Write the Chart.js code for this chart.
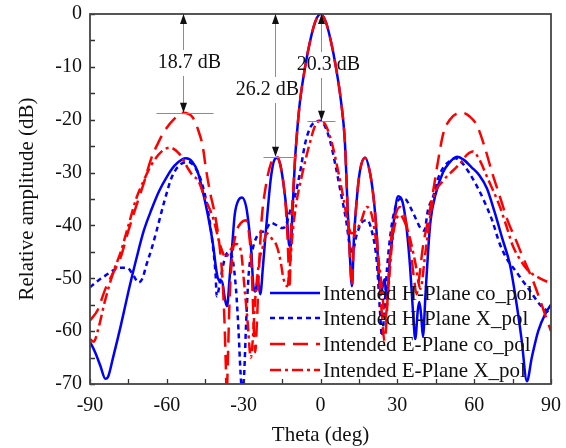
<!DOCTYPE html>
<html>
<head>
<meta charset="utf-8">
<script src="https://cdn.jsdelivr.net/npm/chart.js"></script>
<style>
  html, body { margin: 0; padding: 0; background: #fff; }
  #wrap { width: 566px; height: 448px; }
</style>
</head>
<body>
<div id="wrap"><canvas id="visualization" width="566" height="448"></canvas></div>
<script>
// angles (deg) and levels (dB)
const hcoTheta = [-90,-88,-86,-84,-83,-81,-78,-75,-72,-69,-66,-63,-60,-57,-54,-52.5,-50,-48,-46,-44,-42,-40.5,-39.5,-38.5,-37.3,-36.5,-35.5,-34.5,-33.5,-32,-30.6,-29,-28,-27,-26.3,-25.5,-24.5,-23.5,-22.5,-21.5,-20.5,-19.5,-18.3,-17,-15.7,-14.5,-13.3,-12.3,-11.6,-11,-10,-9,-8,-6,-4,-2,0,2,4,6,8,9.5,10.7,11.5,12.3,13,14,15.3,17.4,19.5,21,22,22.8,23.6,25,26,27,28,29,30.3,32,33.5,35,36.2,37,38,38.6,39.3,40,41,42,43,45,47.8,50,53.3,56,59,62,65,68,71,74,76.7,78.5,80.6,82.5,85,88,90];
const hcoDb = [-62,-64,-66.5,-69,-68.7,-65,-59,-52.5,-46.5,-41,-37,-33.5,-30.8,-28.7,-27.5,-27.3,-28,-29.8,-33.5,-38,-43.5,-49,-50.5,-50.5,-54,-55.3,-50,-44,-38,-35.2,-34.7,-36.5,-40,-45,-51,-52.5,-50.5,-53,-48,-42,-36.5,-31.5,-28,-27.2,-28.5,-32,-37,-43.5,-44,-38,-28,-21.5,-16.5,-10,-5,-1.4,0,-1.4,-5,-10,-16.5,-24,-38,-46,-51.5,-43,-36,-30,-27.2,-30.5,-36,-42,-50,-52.7,-50.2,-54,-47,-42.5,-37.6,-34.5,-35.5,-40,-48,-57,-61.5,-56,-54.5,-57,-61,-53,-45,-39,-34,-30,-28.3,-27,-27.6,-29,-30.5,-33,-37.5,-42.5,-47.5,-55.3,-61.5,-69.5,-65,-60,-56.5,-55];

const hxTheta = [-90,-87,-84,-81,-78,-75.5,-73,-71,-69.5,-68,-66,-64,-61,-58,-55,-51.7,-49,-46,-44,-42,-41,-40.5,-39,-37.5,-36,-34.5,-33,-32,-31.2,-30.5,-29.8,-29,-28,-26.5,-24,-21.5,-19.5,-17,-15,-13.5,-12,-10,-8,-6,-4,-2,0,2,4,6,8,10,11.5,12.5,14,16,18.2,20,22,23.2,24,24.8,26,27.5,29,31,33,35,37,39,40.5,42,44,46,48,50.5,52.6,55,58,61,64,67,70,73,76,79,82,85.7,88,90];
const hxDb = [-51.7,-50.5,-49.5,-48.5,-48,-48,-49.5,-50.8,-50,-47.5,-44.5,-41,-35.5,-30.8,-28.6,-28,-29,-32.5,-37,-44,-49,-53.4,-50,-46.5,-45,-46,-52,-60,-68,-72,-68,-58,-49,-44.5,-41.5,-41,-39.5,-40,-40.5,-40,-37.5,-34.5,-30,-24.5,-21.5,-20.4,-20.2,-21.5,-24.5,-29,-34,-39,-44,-45,-42,-39.5,-39,-41,-47,-56,-61,-57,-48,-41,-37,-35,-35,-36.5,-38.5,-40.5,-41,-37,-34.5,-31,-29,-27.8,-27.3,-28,-30,-32.5,-35.5,-39,-43.5,-46.5,-48.5,-50.5,-52.5,-55,-56,-57];

const ecoTheta = [-90,-87,-84,-81,-78.3,-75,-72.4,-69,-66.2,-63,-60.7,-57,-53.7,-50,-47.8,-46,-44.7,-43,-41.2,-39.5,-38.3,-37.5,-37,-36.6,-36.2,-35.5,-34.5,-33,-31,-29,-27.8,-27,-26.5,-26,-25.5,-24.8,-24,-23,-21.5,-19.5,-17,-15.5,-14,-13,-12.5,-12.1,-11.5,-10.5,-10,-9,-8,-6,-4,-2,0,2,4,6,8,9.5,10.7,11.5,12.3,13,14,15.3,17.4,19.5,21,22,23,24,25,25.5,26.5,27.5,29,31,33,35,36.5,37.5,38.5,40,42,44,46,48,50.5,53,55.6,58,61,64,67,70,73,76.5,79,83,86,88.5,90];
const ecoDb = [-58,-56,-52,-49,-46.4,-41,-37,-32,-27.5,-24,-22,-19.8,-18.7,-19.5,-21.9,-25,-29.4,-34,-38,-43.5,-50,-58,-66,-72,-66,-54,-46,-41.5,-39.5,-39,-42,-47,-53,-60,-64,-58,-48,-39,-33,-28.5,-27,-29,-34,-41,-47,-52,-41,-32,-28,-21.5,-16.5,-10,-5,-1.4,0,-1.4,-5,-10,-16.5,-24,-38,-46,-51.5,-43,-36,-30,-27.2,-30.5,-36,-42,-50,-57,-62,-60,-51,-43,-38.5,-36.5,-38.5,-44,-50,-53,-50,-44,-39,-33.5,-27.5,-22.5,-20,-18.9,-18.7,-19.3,-21,-25,-30,-34.5,-39,-43,-46,-50.5,-54.5,-58,-60];

const exTheta = [-90,-88.5,-87,-84,-81,-78,-75,-72,-69,-66,-62,-58.8,-55,-52,-50,-47.8,-45,-42,-39,-37,-35,-33,-31,-30,-28.5,-27.2,-26.5,-25.5,-24,-22.5,-21,-19,-17,-15.5,-14.5,-13,-12,-11,-9.5,-7,-4.5,-2,0,2,4.5,7,9,10.5,12,14,16,18,20,22,24,25.2,26.5,28,29.5,31,33,35,37,39,41,44,48,52,55,57.2,59.5,62,65,67.5,70,72.5,75.2,78,80.6,83,85.7,90];
const exDb = [-61.5,-62,-60,-54,-49,-45,-40,-35,-31.5,-28.5,-26,-25.3,-26.5,-29,-30.5,-31.5,-35,-38.5,-44,-46,-44.5,-43.5,-45,-50,-58,-65,-62,-54,-47,-44,-41.5,-42.5,-44,-47,-50,-51.5,-48,-42,-36,-30,-25,-21,-20.2,-21,-24.5,-30,-35,-39,-41.5,-41,-39,-36.5,-38,-44,-52,-58,-52,-43,-39,-38,-39.5,-42.6,-47,-52,-45,-35,-31.5,-29.5,-28,-26.6,-26,-27.5,-30.8,-33.5,-36.4,-40,-44,-46.5,-48.3,-49.3,-50,-51];

const seriesNames = ['Intended H-Plane co_pol', 'Intended H-Plane X_pol', 'Intended E-Plane co_pol', 'Intended E-Plane X_pol'];

// level differences marked with arrows
const annLabels = ['18.7 dB', '26.2 dB', '20.3 dB'];
const annTheta = [-53.7, -17.8, 0.2];
const annLevel = [-18.7, -27, -20.2];

const FONT = "'Liberation Serif', 'Times New Roman', serif";

function pts(xs, ys) {
    return xs.map((x, i) => ({x: x, y: ys[i]}));
}

const data = {
    datasets: [
        {
            label: seriesNames[0],
            data: pts(hcoTheta, hcoDb),
            borderColor: 'rgb(0, 0, 255)',
            borderWidth: 2.5,
            order: 4,
        },
        {
            label: seriesNames[1],
            data: pts(hxTheta, hxDb),
            borderColor: 'rgb(0, 0, 255)',
            borderWidth: 2.5,
            borderDash: [5, 4],
            order: 3,
        },
        {
            label: seriesNames[2],
            data: pts(ecoTheta, ecoDb),
            borderColor: 'rgb(255, 0, 0)',
            borderWidth: 2.5,
            borderDash: [15, 8],
            order: 2,
        },
        {
            label: seriesNames[3],
            data: pts(exTheta, exDb),
            borderColor: 'rgb(255, 0, 0)',
            borderWidth: 2.5,
            borderDash: [11, 4, 3, 4],
            order: 1,
        },
    ]
};

// frame, inward ticks, arrows and legend
const extras = {
    id: 'extras',
    afterDraw(chart) {
        const ctx = chart.ctx;
        const a = chart.chartArea;
        const xs = chart.scales.x, ys = chart.scales.y;
        ctx.save();

        // ticks
        ctx.strokeStyle = '#333';
        ctx.lineWidth = 1.3;
        ctx.beginPath();
        for (let v = -90; v <= 90; v += 15) {
            const px = Math.round(xs.getPixelForValue(v)) + 0.5;
            ctx.moveTo(px, a.bottom);
            ctx.lineTo(px, a.bottom - 5);
        }
        for (let v = -70; v <= 0; v += 5) {
            const py = Math.round(ys.getPixelForValue(v)) + 0.5;
            ctx.moveTo(a.left, py);
            ctx.lineTo(a.left + 5, py);
        }
        ctx.stroke();

        // frame
        ctx.strokeStyle = '#444';
        ctx.lineWidth = 1.8;
        ctx.strokeRect(a.left, a.top, a.right - a.left, a.bottom - a.top);

        // annotations
        const textDx = [6, -8, 7];
        const textY = [63, 90, 65];
        const hl = [[-27, 30], [-12, 20], [-14, 14]];
        ctx.font = '20px ' + FONT;
        ctx.textAlign = 'center';
        ctx.textBaseline = 'middle';
        annLabels.forEach((lab, i) => {
            const px = Math.round(xs.getPixelForValue(annTheta[i])) + 0.5;
            const top = ys.getPixelForValue(0);
            const bot = ys.getPixelForValue(annLevel[i]);
            ctx.strokeStyle = '#8c8c8c';
            ctx.lineWidth = 1;
            ctx.beginPath();
            ctx.moveTo(px, top + 8);
            ctx.lineTo(px, textY[i] - 13);
            ctx.moveTo(px, textY[i] + 13);
            ctx.lineTo(px, bot - 8);
            ctx.moveTo(px + hl[i][0], Math.round(bot) + 0.5);
            ctx.lineTo(px + hl[i][1], Math.round(bot) + 0.5);
            ctx.stroke();
            ctx.fillStyle = '#111';
            ctx.beginPath();
            ctx.moveTo(px, top);
            ctx.lineTo(px - 3.5, top + 10);
            ctx.lineTo(px + 3.5, top + 10);
            ctx.closePath();
            ctx.moveTo(px, bot);
            ctx.lineTo(px - 3.5, bot - 10);
            ctx.lineTo(px + 3.5, bot - 10);
            ctx.closePath();
            ctx.fill();
            ctx.fillText(lab, px + textDx[i], textY[i]);
        });

        // legend
        const rowY = [293, 318, 344, 370];
        ctx.font = '21px ' + FONT;
        ctx.textAlign = 'left';
        chart.data.datasets.forEach((ds, i) => {
            ctx.strokeStyle = ds.borderColor;
            ctx.lineWidth = ds.borderWidth;
            ctx.setLineDash(ds.borderDash || []);
            ctx.beginPath();
            ctx.moveTo(270, rowY[i]);
            ctx.lineTo(320, rowY[i]);
            ctx.stroke();
            ctx.setLineDash([]);
            ctx.fillStyle = '#111';
            ctx.fillText(ds.label, 323, rowY[i] + 1);
        });
        ctx.restore();
    }
};

const config = {
    type: 'line',
    data: data,
    options: {
        responsive: false,
        animation: false,
        devicePixelRatio: 1,
        layout: { padding: { top: 14, right: 15, left: 0, bottom: 0 } },
        elements: {
            point: { radius: 0 },
            line: { cubicInterpolationMode: 'monotone', fill: false },
        },
        plugins: {
            legend: { display: false },
            tooltip: { enabled: false },
        },
        scales: {
            x: {
                type: 'linear',
                min: -90,
                max: 90,
                grid: { display: false, drawTicks: false },
                border: { display: false },
                ticks: { stepSize: 30, color: '#111', padding: 10, maxRotation: 0, font: { family: FONT, size: 20 } },
                title: { display: true, text: 'Theta (deg)', color: '#111', padding: { top: 0, bottom: 0 }, font: { family: FONT, size: 21 } },
                afterFit: (s) => { s.height = 64; s.paddingLeft = 0; s.paddingRight = 0; },
            },
            y: {
                min: -70,
                max: 0,
                grid: { display: false, drawTicks: false },
                border: { display: false },
                ticks: { stepSize: 10, color: '#111', padding: 8, font: { family: FONT, size: 20 } },
                title: { display: true, text: 'Relative amplitude (dB)', color: '#111', padding: { top: 15, bottom: 0 }, font: { family: FONT, size: 21 } },
                afterFit: (s) => { s.width = 90; s.paddingTop = 0; s.paddingBottom = 0; },
            },
        },
    },
    plugins: [extras],
};

new Chart(document.getElementById('visualization'), config);
</script>
</body>
</html>
